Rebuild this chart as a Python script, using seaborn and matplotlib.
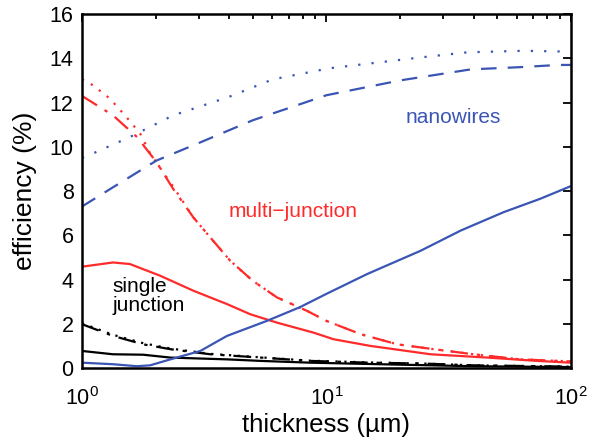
import numpy as np
import matplotlib
matplotlib.use("Agg")
import matplotlib.pyplot as plt
import seaborn as sns
from matplotlib.ticker import LogLocator, MultipleLocator

sns.set_theme(style="white")
plt.rcParams['font.family'] = ['Liberation Sans', 'DejaVu Sans']
plt.rcParams['mathtext.fontset'] = 'custom'
plt.rcParams['mathtext.rm'] = 'Liberation Sans'

BLUE = '#3a55b4'
RED = '#ff2a2a'
BLACK = '#000000'

# nanowires (blue)
nw_dot_x = [1.0, 1.11, 1.57, 2.36, 3.98, 6.04, 10.3, 24.3, 37.7, 64, 100]
nw_dot_y = [9.5, 9.7, 10.44, 11.42, 12.25, 13.05, 13.55, 14.04, 14.27, 14.34, 14.3]
nw_dash_x = [1.0, 1.34, 2.02, 3.05, 5.0, 10, 20, 39, 62, 89, 100]
nw_dash_y = [7.3, 8.17, 9.38, 10.2, 11.2, 12.33, 13.0, 13.5, 13.6, 13.7, 13.7]
nw_solid_x = [1.0, 1.34, 1.68, 1.9, 2.3, 3.05, 3.92, 5.71, 7.8, 10, 14.7, 24.3, 35.4, 53, 75, 100]
nw_solid_y = [0.24, 0.17, 0.08, 0.12, 0.39, 0.77, 1.45, 2.13, 2.75, 3.35, 4.25, 5.30, 6.21, 7.04, 7.65, 8.22]

# multi-junction (red)
mj_dot_x = [1.0, 1.11, 1.30, 1.5, 1.73, 1.9, 2.36, 2.86, 3.35, 4.04, 5.0, 6.28, 8.34, 10, 13.8, 19.5, 27.5, 40, 62, 100]
mj_dot_y = [13.05, 12.78, 12.18, 11.42, 10.6, 9.7, 8.2, 6.8, 5.9, 4.85, 3.94, 3.19, 2.58, 2.13, 1.53, 1.07, 0.85, 0.62, 0.39, 0.3]
mj_dd_x = [1.0, 1.34, 1.68, 2.02, 2.36, 2.86, 3.35, 4.04, 5.0, 6.28, 8.34, 10, 13.8, 19.5, 27.5, 40, 62, 100]
mj_dd_y = [12.3, 11.42, 10.44, 9.3, 8.1, 6.8, 5.9, 4.85, 3.94, 3.19, 2.58, 2.13, 1.53, 1.07, 0.85, 0.62, 0.39, 0.3]
mj_solid_x = [1.0, 1.34, 1.57, 2.09, 2.86, 3.92, 4.88, 6.28, 8.85, 10.7, 15.1, 26.7, 45.6, 73, 100]
mj_solid_y = [4.58, 4.77, 4.7, 4.17, 3.49, 2.89, 2.43, 2.05, 1.60, 1.30, 1.0, 0.62, 0.47, 0.32, 0.24]

# single junction (black)
sj_dd_x = [1.0, 1.34, 1.78, 2.3, 3.35, 5.4, 8.6, 15, 25, 40, 100]
sj_dd_y = [1.98, 1.45, 1.07, 0.85, 0.62, 0.47, 0.32, 0.24, 0.2, 0.12, 0.06]
sj_dot_x = [1.0, 1.34, 1.78, 2.3, 3.35, 5.4, 8.6, 15, 25, 40, 100]
sj_dot_y = [2.02, 1.5, 1.12, 0.88, 0.64, 0.48, 0.33, 0.25, 0.2, 0.12, 0.06]
sj_solid_x = [1.0, 1.34, 1.78, 2.3, 3.92, 5.4, 8.6, 20, 40, 100]
sj_solid_y = [0.77, 0.62, 0.6, 0.47, 0.39, 0.32, 0.24, 0.15, 0.08, 0.04]

fig = plt.figure(figsize=(5.91, 4.48), dpi=100)
ax = fig.add_axes([0.1387, 0.1786, 0.8271, 0.790])

lw = 1.6
series = [
    (sj_solid_x, sj_solid_y, BLACK, '-'),
    (sj_dot_x, sj_dot_y, BLACK, (0, (1, 3))),
    (sj_dd_x, sj_dd_y, BLACK, (0, (8, 4, 1.5, 4))),
    (mj_solid_x, mj_solid_y, RED, '-'),
    (mj_dot_x, mj_dot_y, RED, (0, (1, 3.5))),
    (mj_dd_x, mj_dd_y, RED, (0, (8, 4, 1.5, 4))),
    (nw_solid_x, nw_solid_y, BLUE, '-'),
    (nw_dash_x, nw_dash_y, BLUE, (0, (7, 5))),
    (nw_dot_x, nw_dot_y, BLUE, (0, (1, 5))),
]
for xs, ys, c, ls in series:
    sns.lineplot(x=xs, y=ys, ax=ax, color=c, linestyle=ls, linewidth=lw, estimator=None, sort=False)

ax.set_xscale('log')
ax.set_xlim(1, 100)
ax.set_ylim(0, 16)
ax.yaxis.set_major_locator(MultipleLocator(2))
ax.xaxis.set_major_locator(LogLocator(base=10, numticks=5))
ax.xaxis.set_minor_locator(LogLocator(base=10, subs=np.arange(2, 10), numticks=20))

for sp in ax.spines.values():
    sp.set_color('black')
    sp.set_linewidth(1.8)
ax.tick_params(which='both', direction='in', top=True, right=True, colors='black', labelsize=15.5, width=1.3)
ax.tick_params(which='major', length=6)
ax.tick_params(which='minor', length=3.5)
ax.tick_params(axis='x', pad=14)
ax.tick_params(axis='y', pad=6)

ax.set_xlabel('thickness (µm)', fontsize=18.5, color='black', labelpad=2)
ax.set_ylabel('efficiency (%)', fontsize=19, color='black', labelpad=9)

ax.text(33, 11.33, 'nanowires', color=BLUE, fontsize=15, ha='center', va='center')
ax.text(7.3, 7.07, 'multi\u2212junction', color=RED, fontsize=15, ha='center', va='center')
ax.text(1.33, 3.25, 'single\njunction', color=BLACK, fontsize=15, ha='left', va='center', linespacing=1.0)

fig.savefig('out.png', dpi=100)
